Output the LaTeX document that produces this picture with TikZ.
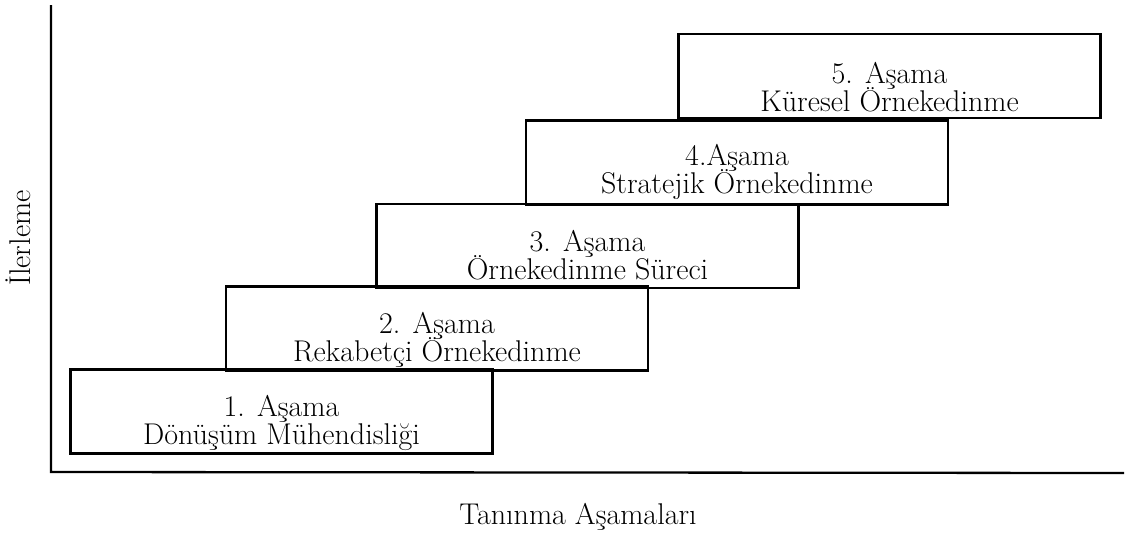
\documentclass[tikz,border=0pt]{standalone}
\usetikzlibrary{calc}
\begin{document}
\begin{tikzpicture}[x=1pt,y=-1pt,
  stage/.style={draw, line width=2.3pt, minimum width=422pt, minimum height=84pt, inner sep=0pt},
  lbl/.style={anchor=base, inner sep=0pt, font=\fontsize{30}{33}\selectfont},
  axis/.style={line width=2.3pt}]
\useasboundingbox (0,0) rectangle (1127,538);

% axes
\coordinate (ytop) at (51,5);
\coordinate (origin) at (51,472);
\coordinate (xend) at (1124,473);
\draw[axis] (ytop) -- (origin) -- (xend);

% stage boxes, climbing to the right
\node[stage] (s1) at (281.5,411.5) {};
\node[stage] (s2) at (437,328.5) {};
\node[stage] (s3) at (587.5,246) {};
\node[stage] (s4) at (737,162.5) {};
\node[stage] (s5) at (889.5,76) {};

% stage captions
\node[lbl, yshift=38pt] (a1) at (s1.south) {1. Aşama};
\node[lbl, yshift=10pt] (b1) at (s1.south) {Dönüşüm Mühendisliği};
\node[lbl, yshift=38pt] (a2) at (s2.south) {2. Aşama};
\node[lbl, yshift=10pt] (b2) at (s2.south) {Rekabetçi Örnekedinme};
\node[lbl, yshift=38pt] (a3) at (s3.south) {3. Aşama};
\node[lbl, yshift=10pt] (b3) at (s3.south) {Örnekedinme Süreci};
\node[lbl, yshift=40pt] (a4) at (s4.south) {4.Aşama};
\node[lbl, yshift=12pt] (b4) at (s4.south) {Stratejik Örnekedinme};
\node[lbl, yshift=36pt] (a5) at (s5.south) {5. Aşama};
\node[lbl, yshift=8pt] (b5) at (s5.south) {Küresel Örnekedinme};

% axis titles
\node[lbl, anchor=center, rotate=90] (ylab) at (18,238) {İlerleme};
\node[lbl] (xlab) at (578,524) {Tanınma Aşamaları};
\end{tikzpicture}
\end{document}
